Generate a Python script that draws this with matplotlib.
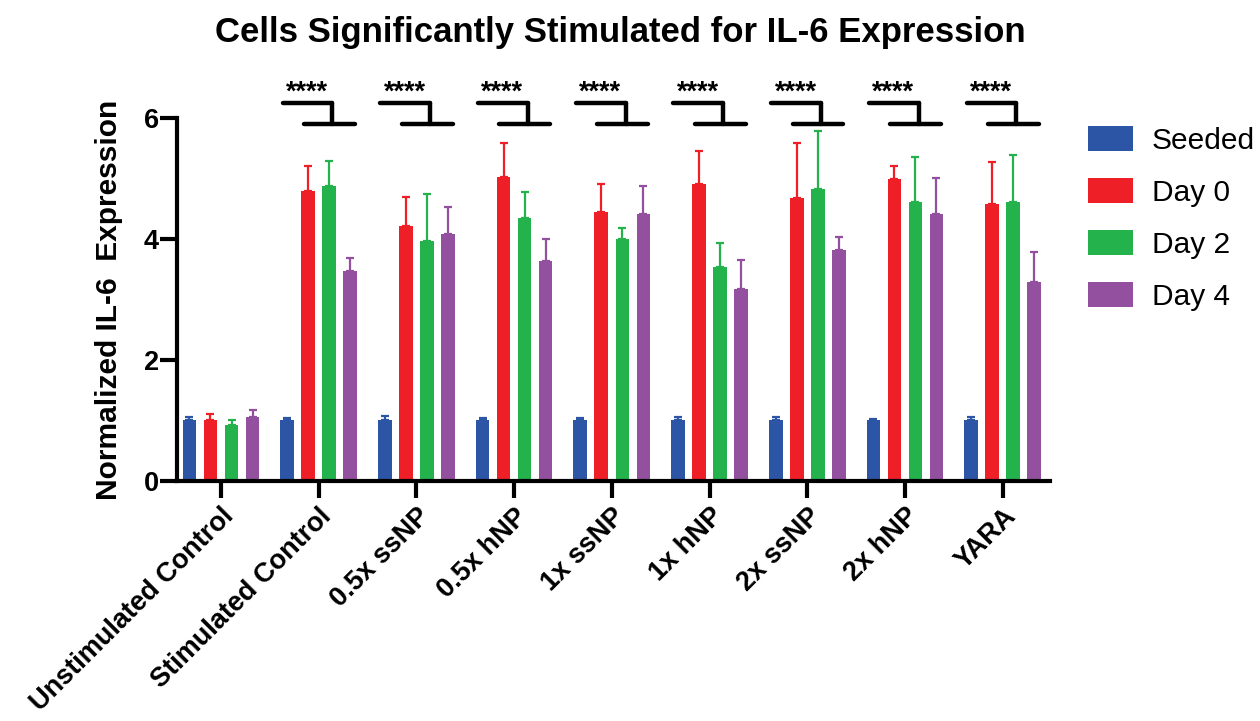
import numpy as np
from matplotlib import pyplot as plt

plt.rcParams['font.family'] = ['Liberation Sans', 'DejaVu Sans']

groups = ['Unstimulated Control', 'Stimulated Control', '0.5x ssNP', '0.5x hNP',
          '1x ssNP', '1x hNP', '2x ssNP', '2x hNP', 'YARA']
series = ['Seeded', 'Day 0', 'Day 2', 'Day 4']
colors = ['#2C55A5', '#EE1F26', '#23B24B', '#93509E']

# mean normalized expression per group
seeded = [1.00, 1.00, 1.00, 1.00, 1.00, 1.00, 1.00, 1.00, 1.00]
day0 = [1.01, 4.79, 4.21, 5.02, 4.45, 4.90, 4.68, 4.99, 4.57]
day2 = [0.92, 4.87, 3.96, 4.34, 4.00, 3.53, 4.82, 4.61, 4.61]
day4 = [1.05, 3.47, 4.08, 3.63, 4.42, 3.17, 3.82, 4.42, 3.29]

# upper error (SD)
seeded_err = [0.05, 0.04, 0.07, 0.04, 0.04, 0.05, 0.06, 0.03, 0.05]
day0_err = [0.09, 0.42, 0.49, 0.57, 0.46, 0.56, 0.90, 0.22, 0.70]
day2_err = [0.09, 0.42, 0.79, 0.44, 0.18, 0.40, 0.97, 0.75, 0.78]
day4_err = [0.12, 0.22, 0.45, 0.37, 0.45, 0.48, 0.22, 0.58, 0.50]

significance = [None, '****', '****', '****', '****', '****', '****', '****', '****']

means = [seeded, day0, day2, day4]
errs = [seeded_err, day0_err, day2_err, day4_err]

fig = plt.figure(figsize=(12.6, 7.21), dpi=100)
ax = fig.add_axes([0.1405, 0.333, 0.6925, 0.5034])

x = np.arange(len(groups))
width = 0.14
step = 0.215
for i, (m, e, c, name) in enumerate(zip(means, errs, colors, series)):
    pos = x + (i - 1.5) * step
    ax.bar(pos, m, width, color=c, label=name, zorder=2)
    ax.errorbar(pos, m, yerr=[np.zeros(len(e)), e], fmt='none', ecolor=c,
                elinewidth=1.6, capsize=3, capthick=1.6, zorder=1)

# significance brackets above each stimulated group
for xi, s in zip(x, significance):
    if s is None:
        continue
    kw = dict(color='black', lw=3.2, solid_capstyle='round', clip_on=False)
    ax.plot([xi - 0.37, xi + 0.14], [6.24, 6.24], **kw)
    ax.plot([xi + 0.14, xi + 0.14], [6.24, 5.90], **kw)
    ax.plot([xi - 0.15, xi + 0.37], [5.90, 5.90], **kw)
    ax.text(xi - 0.12, 6.31, s, ha='center', va='baseline', fontsize=19.5,
            fontweight='bold', clip_on=False)

ax.set_xlim(-0.45, 8.48)
ax.set_ylim(0, 6)
ax.set_yticks([0, 2, 4, 6])
ax.set_xticks(x)
ax.set_xticklabels(groups, rotation=45, ha='right', rotation_mode='anchor',
                   fontsize=19.5, fontweight='bold')
for lab in ax.get_yticklabels():
    lab.set_fontweight('bold')
ax.tick_params(axis='y', labelsize=19.5, width=3, length=12, pad=1,
               direction='out')
ax.tick_params(axis='x', width=3, length=12, direction='out', pad=4)

for side in ['top', 'right']:
    ax.spines[side].set_visible(False)
for side in ['left', 'bottom']:
    ax.spines[side].set_linewidth(3)

ax.set_ylabel('Normalized IL-6  Expression', fontsize=21.5, fontweight='bold',
              labelpad=15)
fig.text(0.492, 0.955, 'Cells Significantly Stimulated for IL-6 Expression',
         ha='center', va='center', fontsize=25, fontweight='bold')

ax.legend(loc='upper left', bbox_to_anchor=(0.8635, 0.825),
          bbox_transform=fig.transFigure, frameon=False, fontsize=21.5,
          handlelength=1.5, handleheight=0.9, labelspacing=0.78,
          handletextpad=0.63, borderaxespad=0, borderpad=0)

fig.savefig('out.png', dpi=100)
